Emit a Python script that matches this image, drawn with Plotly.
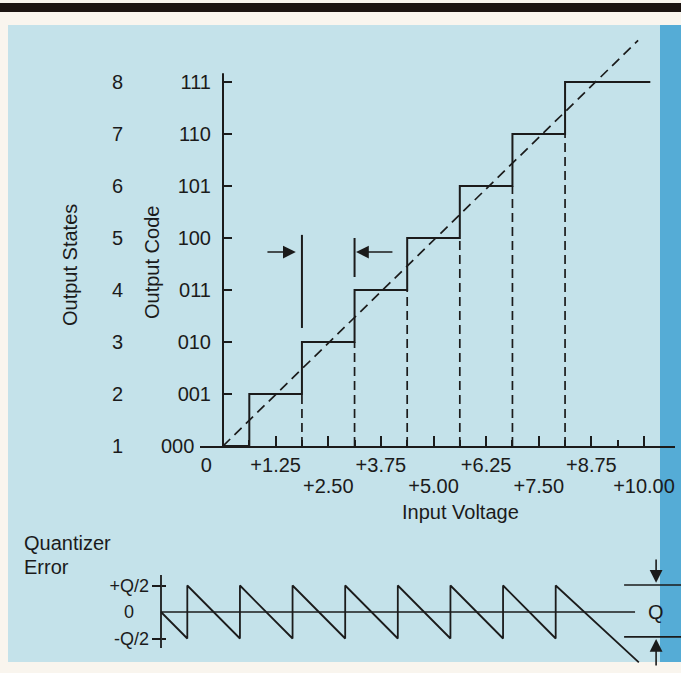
import plotly.graph_objects as go

# ---- data ----
codes = ["000", "001", "010", "011", "100", "101", "110", "111"]
states = ["1", "2", "3", "4", "5", "6", "7", "8"]
code_levels = [0, 1, 2, 3, 4, 5, 6, 7]
transitions = [0.625, 1.875, 3.125, 4.375, 5.625, 6.875, 8.125]  # volts where the code steps up
stair_end = 10.15
ideal_end = (9.86, 7.8)
volt_ticks_upper = [0, 1.25, 3.75, 6.25, 8.75]
volt_labels_upper = ["0", "+1.25", "+3.75", "+6.25", "+8.75"]
volt_ticks_lower = [2.5, 5.0, 7.5, 10.0]
volt_labels_lower = ["+2.50", "+5.00", "+7.50", "+10.00"]
half_ticks = [0.625, 1.875, 3.125, 4.375, 5.625, 6.875, 8.125, 9.375]
lsb_marks = [1.875, 3.125]          # the two markers showing one LSB
lsb_mark_tops = [4.06, 4.0]
lsb_mark_bottoms = [2.27, 3.25]
err_steps = [0.625, 1.875, 3.125, 4.375, 5.625, 6.875, 8.125, 9.375]
err_end = (11.35, -0.95)
err_ticks = [-0.5, 0, 0.5]
err_labels = ["-Q/2", "0", "+Q/2"]

W, H = 681, 684          # page height the screenshot squeezes into 673 px
REF_H = 673
INK = "#1b1b1b"
FONT = "Liberation Sans, Arial, sans-serif"
NB = "\u00a0"


def py(y):
    """reference pixel row -> figure pixel row"""
    return y * H / REF_H


# pixel layout of the two panels (reference pixels)
PXV = 42.1                      # px per volt
X0_MAIN, X0_ERR = 223, 161      # px of 0 V in each panel
PXC, Y0_MAIN = 52.0, 446        # px per code, px of code 000
PXQ, Y0_ERR = 53.0, 612         # px per Q, px of zero error

fig = go.Figure()

# staircase
stair_x = [0] + transitions + [stair_end]
stair_y = [0] + code_levels[1:] + [7]
fig.add_trace(go.Scatter(x=stair_x, y=stair_y, mode="lines", line_shape="hv",
                         line=dict(color=INK, width=2)))

# dashed drop lines under each step
for t, lvl in zip(transitions[1:], code_levels[1:]):
    fig.add_trace(go.Scatter(x=[t, t], y=[0, lvl], mode="lines",
                             line=dict(color=INK, width=1.7, dash="9px,5px")))

# ideal transfer line
fig.add_trace(go.Scatter(x=[0, ideal_end[0]], y=[0, ideal_end[1]], mode="lines",
                         line=dict(color=INK, width=1.7, dash="10px,6px")))

# y axis line of the main panel
fig.add_trace(go.Scatter(x=[0, 0], y=[0, 7.17], mode="lines", line=dict(color=INK, width=2)))

# LSB marker lines
for xm, top, bot in zip(lsb_marks, lsb_mark_tops, lsb_mark_bottoms):
    fig.add_trace(go.Scatter(x=[xm, xm], y=[bot, top], mode="lines", line=dict(color=INK, width=2)))

# quantizer error sawtooth
ex, ey = [0], [0]
for s in err_steps:
    ex += [s, s]
    ey += [-0.5, 0.5]
ex.append(err_end[0])
ey.append(err_end[1])
fig.add_trace(go.Scatter(x=ex, y=ey, mode="lines", line=dict(color=INK, width=1.8),
                         xaxis="x2", yaxis="y2"))
# zero line, error axis, Q bracket
fig.add_trace(go.Scatter(x=[0, 11.26], y=[0, 0], mode="lines", line=dict(color=INK, width=1.6),
                         xaxis="x2", yaxis="y2"))
fig.add_trace(go.Scatter(x=[0, 0], y=[-0.68, 0.70], mode="lines", line=dict(color=INK, width=1.8),
                         xaxis="x2", yaxis="y2"))
for qy in [0.51, -0.47]:
    fig.add_trace(go.Scatter(x=[11.0, 12.4], y=[qy, qy], mode="lines",
                             line=dict(color=INK, width=1.6), xaxis="x2", yaxis="y2"))

# empty traces so the overlaid label/tick axes get drawn
for xa, ya in [("x", "y3"), ("x2", "y4"), ("x2", "y5"), ("x3", "y")]:
    fig.add_trace(go.Scatter(x=[None], y=[None], mode="lines", xaxis=xa, yaxis=ya, hoverinfo="skip"))


def pr(y_top, y_bot):
    return dict(y0=1 - py(y_bot) / H, y1=1 - py(y_top) / H)


# background: blue panel, darker strip, black rule at top
shapes = [
    dict(type="rect", xref="paper", yref="paper", x0=8 / W, x1=660 / W, **pr(25, 662),
         fillcolor="#c4e2ea", line_width=0, layer="below"),
    dict(type="rect", xref="paper", yref="paper", x0=660 / W, x1=1, **pr(25, 662),
         fillcolor="#55acd6", line_width=0, layer="below"),
    dict(type="rect", xref="paper", yref="paper", x0=0, x1=1, **pr(3, 12),
         fillcolor="#1c1512", line_width=0, layer="below"),
]

ann = []
def txt(x, y, s, **kw):
    d = dict(xref="paper", yref="paper", x=x / W, y=1 - py(y) / H, text=s, showarrow=False,
             xanchor="center", yanchor="middle",
             font=dict(family=FONT, size=20, color=INK))
    d.update(kw)
    ann.append(d)

txt(70, 265, "Output States", textangle=-90)
txt(152, 263, "Output Code", textangle=-90)
txt(460, 512, "Input Voltage")
txt(22, 543, "Quantizer", xanchor="left")
txt(22, 567, "Error", xanchor="left")

arrow = dict(text="", showarrow=True, arrowhead=2, arrowsize=1.6, arrowwidth=1.6, arrowcolor=INK)
# LSB arrows
ann.append(dict(x=1.73, y=3.73, ax=1.02, ay=3.73, xref="x", yref="y", axref="x", ayref="y", **arrow))
ann.append(dict(x=3.16, y=3.73, ax=4.06, ay=3.73, xref="x", yref="y", axref="x", ayref="y", **arrow))
# Q bracket arrows and label
ann.append(dict(x=11.76, y=0.55, ax=11.76, ay=1.02, xref="x2", yref="y2", axref="x2", ayref="y2", **arrow))
ann.append(dict(x=11.76, y=-0.51, ax=11.76, ay=-1.04, xref="x2", yref="y2", axref="x2", ayref="y2", **arrow))
ann.append(dict(x=11.76, y=0, xref="x2", yref="y2", text="Q", showarrow=False,
                font=dict(family=FONT, size=20, color=INK)))

upper_text = [volt_labels_upper[0] + NB * 6] + volt_labels_upper[1:]
code_text = [codes[0] + NB * 3] + codes[1:]

tickfont = dict(family=FONT, size=20, color=INK)
x_range = [(200 - X0_MAIN) / PXV, (675 - X0_MAIN) / PXV]
x_domain = [200 / W, 675 / W]
yr_main = [0, (Y0_MAIN - 25) / PXC]
yr_err = [(Y0_ERR - REF_H) / PXQ, (Y0_ERR - 540) / PXQ]
fig.update_layout(
    width=W, height=H, autosize=False,
    margin=dict(l=0, r=0, t=0, b=0),
    paper_bgcolor="#f9f5ee", plot_bgcolor="rgba(0,0,0,0)",
    showlegend=False,
    shapes=shapes, annotations=ann,
    xaxis=dict(domain=x_domain, range=x_range,
               showline=True, linecolor=INK, linewidth=2, showgrid=False, zeroline=False,
               tickmode="array", tickvals=volt_ticks_upper + volt_ticks_lower,
               ticktext=upper_text + [""] * len(volt_ticks_lower), ticks="inside",
               ticklen=10, tickwidth=1.6, tickcolor=INK, tickfont=tickfont, tickangle=0,
               minor=dict(tickvals=half_ticks, ticks="inside", ticklen=6, tickwidth=1.6, tickcolor=INK),
               fixedrange=True),
    # second row of voltage labels
    xaxis3=dict(overlaying="x", anchor="y", domain=x_domain, range=x_range,
                showline=False, showgrid=False, zeroline=False, ticks="",
                tickmode="array", tickvals=volt_ticks_lower, ticktext=volt_labels_lower,
                tickfont=tickfont, tickangle=0, ticklabelstandoff=26, fixedrange=True),
    yaxis=dict(domain=[1 - py(Y0_MAIN) / H, 1 - py(25) / H], range=yr_main,
               anchor="free", position=X0_MAIN / W, showline=False, showgrid=False, zeroline=False,
               tickmode="array", tickvals=code_levels, ticktext=code_text, ticks="inside",
               ticklen=8, tickwidth=1.6, tickcolor=INK, tickfont=tickfont, ticklabelstandoff=12,
               fixedrange=True),
    yaxis3=dict(overlaying="y", anchor="free", position=123 / W, range=yr_main,
                showline=False, showgrid=False, zeroline=False, ticks="",
                tickmode="array", tickvals=code_levels, ticktext=states, tickfont=tickfont,
                fixedrange=True),
    xaxis2=dict(domain=[0, 1], range=[-X0_ERR / PXV, (W - X0_ERR) / PXV], anchor="y2",
                visible=False, fixedrange=True),
    yaxis2=dict(domain=[0, 1 - py(540) / H], range=yr_err,
                anchor="free", position=X0_ERR / W, showline=False, showgrid=False, zeroline=False,
                tickmode="array", tickvals=[-0.5, 0.5], ticks="outside", ticklen=9, tickwidth=1.6,
                tickcolor=INK, showticklabels=False, fixedrange=True),
    yaxis4=dict(overlaying="y2", anchor="free", position=X0_ERR / W, range=yr_err,
                showline=False, showgrid=False, zeroline=False,
                tickmode="array", tickvals=[-0.5, 0.5], ticks="inside", ticklen=4, tickwidth=1.6,
                tickcolor=INK, showticklabels=False, fixedrange=True),
    yaxis5=dict(overlaying="y2", anchor="free", position=X0_ERR / W, range=yr_err,
                showline=False, showgrid=False, zeroline=False, ticks="",
                tickmode="array", tickvals=err_ticks,
                ticktext=[err_labels[0], err_labels[1] + NB * 3, err_labels[2]],
                tickfont=dict(family=FONT, size=18, color=INK), ticklabelstandoff=12,
                fixedrange=True),
)

fig.write_html("out.html", config={"displayModeBar": False},
               post_script="document.body.style.margin='0';document.body.style.background='#f9f5ee';")
